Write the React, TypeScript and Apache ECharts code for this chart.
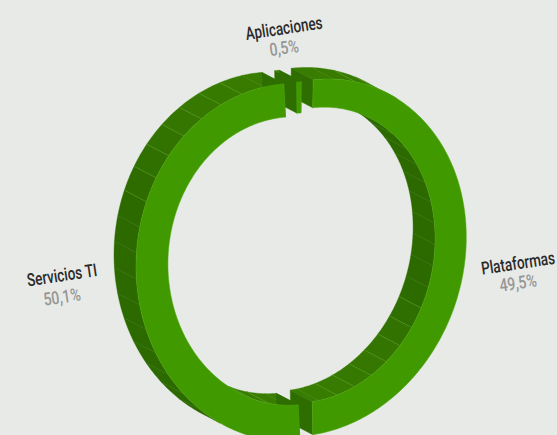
import React, { useEffect, useRef } from "react";
import * as echarts from "echarts";

// Clockwise from the top gap
const categories = ["Plataformas", "Servicios TI", "Aplicaciones"];
const values = [49.5, 50.1, 0.5];
const percentLabels = ["49,5%", "50,1%", "0,5%"];

const drawOrder = [0, 2, 1];
const total = values.reduce((a, b) => a + b, 0);
const startDeg = (values[2] / total) * 180;

type Geo = {
  c: number[]; ci: number[]; a: number[]; b: number[]; ra: number; rb: number;
};
const geometry: Geo[] = [
  { c: [310.3, 257.6], ci: [310.3, 255], a: [156, -20], b: [0.5, -177.5], ra: 0.8, rb: 0.828 },
  { c: [291.7, 262.4], ci: [291.7, 261], a: [155.6, -10], b: [-5.3, -178.7], ra: 0.795, rb: 0.806 },
  { c: [299, 259.5], ci: [299, 259.5], a: [155, -14], b: [0, -177.5], ra: 0.825, rb: 0.825 },
];
const depth = [-22, -11.5];
const facetDeg = 360 / 43;
const upThreshold = 0.37;
const labelLayout = [
  { x: 518, y: 263, y2: 283 },
  { x: 62, y: 275, y2: 297 },
  { x: 284, y: 28, y2: 48 },
];
const BG = "#e8eae7";
const FRONT = "#419900";
const CUT = "#2e6e00";

function lerp(t: number) {
  const c0 = [0x2c, 0x6a, 0x00];
  const c1 = [0x38, 0x7c, 0x00];
  const c = c0.map((v, i) => Math.round(v + (c1[i] - v) * t));
  return `rgb(${c[0]},${c[1]},${c[2]})`;
}

function sliceRange(i: number) {
  let s = startDeg;
  for (let k = 0; k < i; k++) s += (values[k] / total) * 360;
  return [s, s + (values[i] / total) * 360];
}

function outerPt(g: Geo, deg: number) {
  const t = (deg * Math.PI) / 180;
  const s = Math.sin(t), c = Math.cos(t);
  return [g.c[0] + g.a[0] * s + g.b[0] * c, g.c[1] + g.a[1] * s + g.b[1] * c];
}
function innerPt(g: Geo, deg: number) {
  const t = (deg * Math.PI) / 180;
  const s = Math.sin(t) * g.ra, c = Math.cos(t) * g.rb;
  return [g.ci[0] + g.a[0] * s + g.b[0] * c, g.ci[1] + g.a[1] * s + g.b[1] * c];
}
const back = (p: number[]) => [p[0] + depth[0], p[1] + depth[1]];

function facetBreaks(a0: number, a1: number) {
  const out = [a0];
  const k0 = Math.ceil(a0 / facetDeg);
  for (let k = k0; k * facetDeg < a1; k++) {
    const d = k * facetDeg;
    if (d > a0) out.push(d);
  }
  out.push(a1);
  return out;
}

function renderSlice(_: any, api: any) {
  const i = api.value(0);
  const g = geometry[i];
  const [a0, a1] = sliceRange(i);
  const children: any[] = [];
  const lines: any[] = [];
  const sample = (from: number, to: number, fn: (d: number) => number[]) => {
    const n = Math.max(1, Math.ceil((to - from) / 1));
    const pts: number[][] = [];
    for (let k = 0; k <= n; k++) pts.push(fn(from + ((to - from) * k) / n));
    return pts;
  };
  const poly = (points: number[][], fill: string) =>
    children.push({
      type: "polygon",
      shape: { points },
      style: { fill, stroke: fill, lineWidth: 0.4 },
      silent: true,
    });
  const line = (p: number[], q: number[]) =>
    lines.push({
      type: "line",
      shape: { x1: p[0], y1: p[1], x2: q[0], y2: q[1] },
      style: { stroke: "#5ea72a", lineWidth: 0.5, opacity: 0.8 },
      silent: true,
    });

  // Outer and inner walls, facet by facet
  const breaks = facetBreaks(a0, a1);
  const walls: [(d: number) => number[], number][] = [
    [(d) => outerPt(g, d), 1],
    [(d) => innerPt(g, d), -1],
  ];
  walls.forEach(([fn, sign]) => {
    for (let k = 0; k < breaks.length - 1; k++) {
      const from = breaks[k], to = breaks[k + 1];
      const mid = (((from + to) / 2) * Math.PI) / 180;
      const nx = sign * Math.sin(mid), ny = -sign * Math.cos(mid);
      if (nx * depth[0] + ny * depth[1] <= -1) continue;
      const f = sample(from, to, fn);
      const t = Math.max(0, (-ny - upThreshold) / (1 - upThreshold));
      poly([...f, ...f.map(back).reverse()], lerp(t));
      const up = sign * Math.cos((from * Math.PI) / 180);
      const sinB = Math.abs(Math.sin((from * Math.PI) / 180));
      if (k > 0 && sinB > 0.2 && up > upThreshold) line(fn(from), back(fn(from)));
    }
  });
  children.push(...lines);

  // Cut faces
  [a0, a1].forEach((d) => {
    const o = outerPt(g, d), n = innerPt(g, d);
    poly([o, n, back(n), back(o)], CUT);
  });

  // Front face
  const outer = sample(a0, a1, (d) => outerPt(g, d));
  const inner = sample(a0, a1, (d) => innerPt(g, d));
  children.push({
    type: "polygon",
    shape: { points: [...outer, ...inner.reverse()] },
    style: { fill: FRONT, stroke: "#4da80f", lineWidth: 0.5 },
    silent: true,
  });
  return { type: "group", children };
}

export default function App() {
  const ref = useRef<HTMLDivElement>(null);
  useEffect(() => {
    document.body.style.margin = "0";
    const chart = echarts.init(ref.current!, undefined, { renderer: "svg" });
    const texts: any[] = [];
    categories.forEach((name, i) => {
      const l = labelLayout[i];
      texts.push({
        type: "text", x: l.x, y: l.y, rotation: 0.15, scaleX: 0.75, silent: true,
        style: {
          text: name, fill: "#2a2a2a", fontFamily: "Roboto", fontSize: 18, fontWeight: 500,
          textAlign: "center", textVerticalAlign: "middle",
        },
      });
      texts.push({
        type: "text", x: l.x, y: l.y2, rotation: 0.15, scaleX: 0.78, silent: true,
        style: {
          text: percentLabels[i], fill: "#969696", fontFamily: "Roboto", fontSize: 18, fontWeight: 500,
          textAlign: "center", textVerticalAlign: "middle",
        },
      });
    });
    chart.setOption({
      animation: false,
      backgroundColor: BG,
      series: [
        {
          type: "custom",
          coordinateSystem: "none",
          silent: true,
          clip: false,
          renderItem: renderSlice,
          data: drawOrder.map((i) => [i, values[i]]),
        },
      ],
      graphic: texts,
    });
    return () => chart.dispose();
  }, []);
  return <div ref={ref} style={{ width: 557, height: 435 }} />;
}
